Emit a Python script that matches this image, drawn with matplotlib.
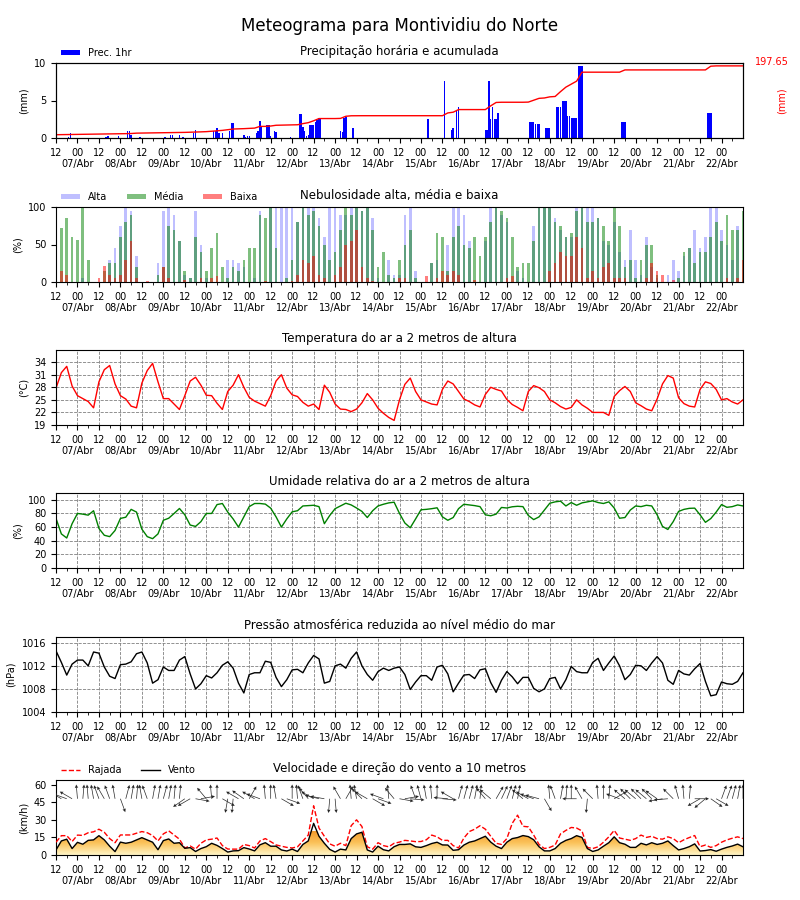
import numpy as np
import matplotlib
matplotlib.use("Agg")
import matplotlib.pyplot as plt
from matplotlib.patches import Polygon
from matplotlib.colors import LinearSegmentedColormap

# hours since 06/Abr 12UTC, 3-hourly
hours = np.arange(0, 385, 3)

day_labels = ["07/Abr", "08/Abr", "09/Abr", "10/Abr", "11/Abr", "12/Abr", "13/Abr", "14/Abr",
              "15/Abr", "16/Abr", "17/Abr", "18/Abr", "19/Abr", "20/Abr", "21/Abr", "22/Abr"]

# precipitation (hour, mm)
prec_hours = [7, 8, 28, 29, 35, 40, 41, 42, 47, 61, 64, 65, 69, 71, 77, 78, 88, 89, 90, 91, 93,
              97, 98, 99, 105, 106, 107, 108, 112, 113, 114, 115, 118, 119, 120, 122, 123, 131,
              136, 137, 138, 139, 140, 141, 142, 143, 144, 145, 146, 147, 148, 159, 160, 161, 162,
              166, 208, 217, 221, 222, 224, 225, 240, 241, 242, 243, 244, 245, 246, 247,
              265, 266, 267, 268, 269, 270, 274, 275, 276, 280, 281, 282, 283, 284, 285, 286,
              287, 288, 289, 290, 291, 292, 293, 294, 316, 317, 318, 364, 365, 366]
prec_vals = [0.2, 0.7, 0.2, 0.3, 0.3, 1.0, 1.0, 0.45, 0.2, 0.15, 0.45, 0.45, 0.45, 0.2, 0.7, 1.1,
             1.0, 1.0, 1.35, 0.7, 0.7, 0.9, 2.0, 2.0, 0.45, 0.2, 0.3, 0.3, 0.7, 0.9, 2.3, 1.5,
             1.8, 1.8, 0.3, 1.0, 0.75, 0.15, 3.25, 3.25, 1.5, 0.9, 0.3, 0.35, 1.8, 1.8, 1.8,
             2.2, 2.4, 2.7, 2.7, 0.9, 0.75, 2.7, 2.75, 1.4, 2.6, 7.55, 1.1, 1.35, 3.55, 4.2,
             1.1, 1.1, 7.55, 2.6, 4.2, 2.6, 2.6, 3.4, 2.2, 2.2, 2.2, 1.9, 1.9, 1.9, 1.4, 1.4,
             1.4, 4.2, 4.2, 4.2, 4.9, 4.9, 4.9, 3.0, 3.0, 2.7, 2.7, 2.7, 2.7, 9.55, 9.55, 9.55,
             2.2, 2.2, 2.2, 3.4, 3.4, 3.4]

prec_acc = [9.0, 9.2, 9.4, 9.6, 9.8, 10.0, 10.2, 10.5,
            10.7, 10.9, 11.1, 11.3, 11.5, 11.9, 12.3, 13.3,
            13.7, 13.8, 14.0, 14.2, 14.4, 14.6, 14.9, 15.1,
            15.4, 15.8, 16.4, 16.8, 17.4, 18.5, 19.9, 20.9,
            22.6, 24.6, 25.0, 25.6, 26.2, 27.1, 31.8, 31.8,
            32.8, 34.9, 35.3, 35.7, 35.9, 36.3, 39.4, 42.0,
            47.2, 53.3, 53.3, 53.3, 53.3, 53.7, 59.5, 60.9,
            61.1, 61.1, 61.1, 61.1, 61.1, 61.1, 61.1, 61.1,
            61.1, 61.1, 61.1, 61.1, 61.1, 61.1, 61.1, 61.1,
            61.1, 68.7, 70.7, 77.9, 77.9, 77.9, 77.9, 77.9,
            77.9, 88.2, 97.4, 98.0, 98.0, 98.0, 98.0, 98.0,
            98.4, 103.5, 108.7, 109.7, 112.8, 113.8, 127.1, 139.4,
            147.6, 155.8, 180.4, 180.4, 180.4, 180.4, 180.4, 180.4,
            180.4, 180.4, 186.6, 186.6, 186.6, 186.6, 186.6, 186.6,
            186.6, 186.6, 186.6, 186.6, 186.6, 186.6, 186.6, 186.6,
            186.6, 186.6, 196.8, 197.65, 197.65, 197.65, 197.65, 197.65,
            197.65]

cloud_high = [0, 0, 0, 0, 0, 5, 0, 0,
              0, 0, 30, 45, 75, 100, 95, 35,
              0, 0, 0, 25, 95, 100, 90, 55,
              10, 5, 95, 50, 5, 0, 0, 0,
              30, 30, 25, 20, 0, 5, 95, 0,
              100, 100, 100, 100, 100, 80, 100, 100,
              100, 85, 60, 100, 100, 90, 90, 100,
              100, 95, 100, 85, 5, 0, 30, 10,
              10, 90, 100, 15, 0, 0, 25, 30,
              0, 50, 100, 100, 90, 55, 0, 0,
              55, 100, 100, 90, 80, 0, 15, 5,
              0, 75, 100, 100, 100, 85, 70, 60,
              60, 100, 100, 100, 100, 85, 55, 50,
              80, 40, 30, 70, 30, 10, 60, 20,
              5, 0, 10, 30, 15, 35, 45, 70,
              45, 60, 100, 100, 70, 50, 30, 75,
              0]
cloud_mid = [30, 72, 85, 60, 56, 100, 30, 0,
             0, 15, 25, 25, 60, 80, 90, 20,
             0, 0, 0, 10, 20, 75, 70, 55,
             15, 5, 60, 40, 15, 45, 65, 20,
             5, 20, 15, 30, 45, 45, 90, 85,
             100, 45, 0, 5, 30, 80, 100, 90,
             95, 75, 50, 30, 40, 70, 100, 90,
             100, 95, 100, 70, 20, 40, 10, 5,
             30, 50, 70, 5, 0, 0, 25, 65,
             60, 15, 60, 75, 50, 45, 60, 35,
             60, 80, 100, 95, 85, 60, 20, 25,
             25, 55, 100, 100, 100, 80, 75, 60,
             65, 95, 100, 80, 80, 85, 75, 55,
             100, 75, 20, 30, 5, 30, 50, 50,
             10, 0, 0, 0, 5, 40, 45, 25,
             40, 40, 60, 80, 55, 90, 70, 70,
             95]
cloud_low = [5, 15, 10, 0, 0, 0, 0, 0,
             5, 22, 10, 5, 10, 30, 55, 5,
             0, 2, 0, 0, 20, 5, 0, 0,
             3, 0, 0, 5, 0, 5, 8, 0,
             0, 0, 0, 0, 0, 0, 0, 2,
             0, 0, 0, 0, 2, 10, 30, 25,
             35, 10, 5, 0, 10, 20, 50, 55,
             70, 20, 5, 2, 0, 0, 0, 0,
             5, 5, 0, 0, 0, 8, 0, 5,
             15, 10, 15, 10, 0, 0, 3, 0,
             0, 0, 0, 0, 5, 8, 0, 0,
             0, 0, 0, 0, 15, 25, 40, 35,
             35, 60, 45, 5, 15, 5, 20, 25,
             5, 5, 5, 0, 0, 0, 5, 25,
             15, 10, 0, 3, 0, 0, 0, 0,
             0, 0, 0, 0, 0, 5, 0, 5,
             30]

temp = [27.8, 31.5, 33.0, 28.3, 26.0, 25.3, 24.6, 23.1,
        29.3, 32.2, 33.2, 28.8, 26.0, 25.2, 23.5, 23.1,
        29.0, 32.0, 33.7, 29.3, 25.3, 25.3, 24.0, 22.7,
        26.0, 29.5, 30.4, 28.5, 26.1, 26.0, 24.2, 22.7,
        27.0, 28.5, 31.0, 28.0, 25.6, 24.7, 24.1, 23.5,
        26.0, 29.5, 31.0, 27.8, 26.2, 25.8, 24.4, 23.5,
        24.0, 22.7, 28.5, 26.8, 24.0, 22.8, 22.7, 22.2,
        22.8, 24.3, 26.5, 25.0, 23.0, 21.8, 20.8, 20.1,
        25.0, 28.7, 30.2, 27.0, 25.0, 24.5, 24.0, 23.8,
        27.5, 29.5, 28.8, 27.0, 25.2, 24.6, 23.8, 23.3,
        26.3, 28.0, 27.5, 27.1, 25.1, 23.9, 23.2, 22.4,
        27.0, 28.4, 27.9, 27.0, 25.0, 24.3, 23.4, 22.8,
        23.2, 25.0, 23.8, 23.0, 22.0, 22.0, 22.0, 21.3,
        25.8, 27.2, 28.2, 27.0, 24.3, 23.6, 22.8, 22.4,
        25.2, 28.8, 30.8, 30.2, 25.5, 24.1, 23.5, 23.3,
        27.5, 29.3, 28.9, 27.5, 25.0, 25.3, 24.5, 24.0,
        25.0]

rh = [72.7, 50, 44, 65, 80, 79, 77.5, 84,
      58, 48, 46, 55, 72.7, 74.5, 86, 82,
      57, 46, 43, 50, 70, 73, 80, 87.3,
      78, 63, 61, 68, 80, 80, 93, 94.6,
      82, 72, 60, 75, 90, 94.6, 94.6, 93.7,
      87.8, 75, 60, 72, 82.4, 84, 91, 91.5,
      92, 90, 65, 77, 87, 91, 95, 92.5,
      88, 83, 74, 84, 91, 93.5, 95.5, 96.5,
      80, 66, 59, 72, 85.4, 86, 87, 88.3,
      75, 70, 74, 87, 93.5, 92.5, 91.5, 90,
      78, 76.6, 79, 88.8, 88, 89.8, 90.5, 90,
      77, 71, 75, 85, 95, 97, 98, 91,
      96, 92, 95.5, 97, 98.5, 96, 94.6, 97,
      88, 73, 74, 85, 91, 90, 92, 91,
      78, 61, 56.5, 68, 83, 86, 87.5, 87.8,
      78, 67, 72.5, 82, 93, 89, 90, 92.5,
      91]

pres = [1014.6, 1012.6, 1010.4, 1012.3, 1013.0, 1013.0, 1012.0, 1014.4,
        1014.2, 1011.8, 1010.2, 1009.8, 1012.2, 1012.3, 1012.7, 1014.1,
        1014.4, 1012.5, 1009.0, 1009.6, 1011.8, 1011.2, 1011.2, 1013.0,
        1013.6, 1010.6, 1008.0, 1008.9, 1010.3, 1009.9, 1010.8, 1012.1,
        1012.7, 1011.6, 1009.0, 1007.3, 1010.5, 1010.8, 1010.8, 1012.8,
        1012.6, 1010.0, 1008.4, 1009.6, 1011.3, 1011.4, 1010.8, 1012.5,
        1013.8, 1013.2, 1009.0, 1009.3, 1012.0, 1012.3, 1011.6, 1013.3,
        1014.4, 1012.0, 1010.5, 1009.5, 1011.0, 1011.6, 1011.2, 1011.6,
        1011.8, 1010.5, 1007.9, 1009.2, 1010.3, 1010.3, 1009.5, 1011.8,
        1012.1, 1010.6, 1007.5, 1009.0, 1010.4, 1010.5, 1009.8, 1011.3,
        1011.5, 1009.1, 1007.4, 1009.5, 1011.0, 1010.1, 1008.9, 1010.0,
        1010.0, 1008.1, 1007.5, 1008.0, 1009.8, 1010.0, 1008.0, 1009.6,
        1011.9, 1011.0, 1010.8, 1010.8, 1012.6, 1013.3, 1011.2, 1012.5,
        1013.7, 1012.0, 1009.6, 1010.5, 1012.1, 1012.0, 1011.2, 1012.5,
        1013.6, 1012.5, 1009.5, 1008.8, 1011.2, 1010.6, 1010.4, 1011.5,
        1012.4, 1009.3, 1006.8, 1007.0, 1009.2, 1008.9, 1008.8, 1009.3,
        1010.8]

wind = [4.3, 12, 13.5, 5.5, 10.8, 9.2, 12.5, 12.9,
        16.5, 12.9, 7.5, 2.9, 11, 10, 10.9, 12.9,
        14.8, 12.9, 10.9, 4.5, 12.3, 13.7, 10, 10.5,
        5.7, 6.3, 3, 5.5, 7.1, 10, 8.2, 5.5,
        2.5, 3.5, 3.7, 6.3, 5.1, 3.5, 8.7, 10.5,
        7.5, 7.5, 4.3, 3.4, 5, 3, 9, 12,
        27, 16, 10, 4.8, 2.5, 5, 4.3, 14,
        18, 19.4, 4.3, 2.5, 7.5, 4.5, 3.5, 7.1,
        9, 9, 9.5, 7, 6.5, 8, 9.8, 10.9,
        8.6, 8.5, 4, 4.5, 8.5, 10.9, 12, 14,
        16, 11, 7.5, 5.5, 10.9, 14, 14.9, 16.6,
        15.7, 13, 7, 3.5, 3.5, 5.5, 10, 12.5,
        14, 16.5, 15, 5.5, 3, 4.3, 7.5, 10.5,
        15.5, 10.5, 9.2, 6.5, 6.5, 10, 8.6, 10.5,
        9, 10, 12, 8, 4.3, 5.5, 7.1, 9.5,
        3.4, 3.8, 4.6, 3.2, 5, 6.5, 7.7, 9.3,
        7]

gust = [10.9, 16.5, 16.5, 11.5, 17, 16.7, 19, 19.8,
        22, 19.4, 14, 10.5, 17.1, 17.1, 17.1, 18.6,
        20, 19, 16.6, 12, 18, 20.6, 17.1, 13.5,
        6, 7.7, 5, 10, 12.9, 13.5, 14.5, 8,
        5.1, 5, 5, 9, 8, 6, 12, 14,
        11.4, 8.6, 7.5, 6.5, 6, 7, 12, 17,
        42, 23, 16, 9.5, 7.5, 10, 8, 25,
        30, 24.3, 7, 5, 10.5, 8, 7, 10,
        11, 12.5, 12, 11.4, 11.5, 13, 17, 15.5,
        12.5, 12.5, 8, 6, 14.5, 20, 22, 25,
        22, 16, 10, 9, 14, 27, 34, 24.5,
        24, 17, 9, 5.5, 6.5, 8.5, 18, 21,
        23.5, 23, 20.5, 6.5, 5.5, 7, 10.9, 15.5,
        21, 14.5, 13.5, 12.5, 14, 17, 15, 16,
        14, 13.5, 15.5, 14, 10.5, 13, 14.9, 16.6,
        7.1, 8.5, 6.5, 8, 10.9, 12.9, 14.3, 15.5,
        14]

# arrow heading on screen, degrees (0 = east, 90 = up)
wind_arrow = [150, 150, 160, 150, 95, 85, 95, 100,
              110, 120, 110, 100, -70, 75, 80, 85,
              100, 110, 80, 80, 75, 80, 85, 85,
              -145, -150, -10, 10, 130, 95, 90, -30,
              -100, -95, 150, 145, 60, 150, 160, 95,
              90, 100, -30, -20, 90, 95, 110, 130,
              150, 165, 170, -95, -85, 120, 60, 95,
              100, 135, 150, -30, -20, 160, 95, 130,
              -10, 10, -5, 110, 105, 100, 95, 90,
              -5, 175, 150, 75, 75, 75, 80, 85,
              130, 140, 60, 65, 70, 75, 80, 140,
              150, 160, 165, -60, 95, 110, 80, 85,
              90, 180, 120, -95, 135, 95, 90, 85,
              30, 160, 140, 135, 140, 135, 140, 135,
              145, -170, -175, 135, 105, 95, 85, 0,
              -150, -140, -35, -30, 70, 70, 75, 80,
              90]

plt.rcParams['font.family'] = 'DejaVu Sans'
fig = plt.figure(figsize=(8, 9), dpi=100)
fig.suptitle("Meteograma para Montividiu do Norte", fontsize=12, y=0.971, va='center')

left, width, height = 0.07, 0.85875, 75 / 900
bottoms_px = [138, 282, 425, 568, 712, 855]
axes = [fig.add_axes([left, 1 - b / 900, width, height]) for b in bottoms_px]

major = np.arange(0, 384, 12)
labels = []
for h in major:
    if (h // 12) % 2 == 0:
        labels.append("12\n ")
    else:
        labels.append("00\n" + day_labels[(h - 12) // 24])

for ax in axes:
    ax.set_xlim(0, 384)
    ax.set_xticks(major)
    ax.set_xticklabels(labels, fontsize=7)
    ax.set_xticks(np.arange(6, 384, 12), minor=True)
    ax.tick_params(axis='y', labelsize=7)
    ax.tick_params(axis='x', which='major', length=3.5)
    ax.tick_params(axis='x', which='minor', length=2)

tfs = 8.5

# precipitation
ax = axes[0]
ax.bar(prec_hours, prec_vals, width=0.8, color='b', label='Prec. 1hr')
ax.set_ylim(0, 10)
ax.set_yticks([0, 5, 10])
ax.set_ylabel("(mm)", fontsize=7)
ax.set_title("Precipitação horária e acumulada", fontsize=tfs)
ax.legend(loc='lower left', bbox_to_anchor=(0, 1.0), frameon=False, fontsize=7,
          borderaxespad=0.1, handleheight=0.5)
ax2 = ax.twinx()
ax2.plot(hours, prec_acc, color='r', lw=1)
ylim_acc = prec_acc[-1] * 1.04
ax2.set_ylim(0, ylim_acc)
ax2.set_yticks([])
ax2.set_xlim(0, 384)
ax2.set_ylabel("(mm)", color='r', fontsize=7, labelpad=24)
ax2.text(1.017, 1.01, "%.2f" % prec_acc[-1], color='r', fontsize=7,
         transform=ax2.transAxes, va='center', ha='left')

# clouds
ax = axes[1]
bw = 1.5
ax.bar(hours, cloud_high, width=bw, color='b', alpha=0.25, label='Alta')
ax.bar(hours, cloud_mid, width=bw, color='g', alpha=0.5, label='Média')
ax.bar(hours, cloud_low, width=bw, color='r', alpha=0.5, label='Baixa')
ax.set_ylim(0, 100)
ax.set_yticks([0, 50, 100])
ax.set_ylabel("(%)", fontsize=7)
ax.set_title("Nebulosidade alta, média e baixa", fontsize=tfs)
ax.legend(loc='lower left', bbox_to_anchor=(0, 1.0), frameon=False, fontsize=7, ncol=3,
          borderaxespad=0.1, handleheight=0.5)

# temperature
ax = axes[2]
ax.plot(hours, temp, color='r', lw=1)
ax.set_ylim(19, 36.9)
ax.set_yticks([19, 22, 25, 28, 31, 34])
ax.set_ylabel("(°C)", fontsize=7)
ax.set_title("Temperatura do ar a 2 metros de altura", fontsize=tfs)
ax.grid(True, ls='--', color='gray', lw=0.6)

# humidity
ax = axes[3]
ax.plot(hours, rh, color='g', lw=1)
ax.set_ylim(0, 110)
ax.set_yticks([0, 20, 40, 60, 80, 100])
ax.set_ylabel("(%)", fontsize=7)
ax.set_title("Umidade relativa do ar a 2 metros de altura", fontsize=tfs)
ax.grid(True, ls='--', color='gray', lw=0.6)

# pressure
ax = axes[4]
ax.plot(hours, pres, color='k', lw=1)
ax.set_ylim(1004, 1017)
ax.set_yticks([1004, 1008, 1012, 1016])
ax.set_ylabel("(hPa)", fontsize=7)
ax.set_title("Pressão atmosférica reduzida ao nível médio do mar", fontsize=tfs)
ax.grid(True, ls='--', color='gray', lw=0.6)

# wind
ax = axes[5]
cmap = LinearSegmentedColormap.from_list("wfill", ["#fff6c8", "#fbc35c", "#f39a2a"])
poly = Polygon(np.column_stack([np.r_[hours[0], hours, hours[-1]], np.r_[0, wind, 0]]),
               closed=True, facecolor='none', edgecolor='none')
ax.add_patch(poly)
grad = np.linspace(0, 1, 256).reshape(-1, 1)
im = ax.imshow(grad, extent=[0, 384, 0, 20], origin='lower', aspect='auto', cmap=cmap, zorder=1)
im.set_clip_path(poly)
ax.plot(hours, gust, color='r', ls='--', lw=1, label='Rajada', zorder=3)
ax.plot(hours, wind, color='k', lw=1, label='Vento', zorder=4)
ang = np.deg2rad(wind_arrow)
ax.quiver(hours, np.full(len(hours), 48.0), np.cos(ang), np.sin(ang), angles='uv',
          scale_units='inches', scale=7.0, width=0.001, headwidth=5, headlength=5,
          headaxislength=4.5, color='0.15', pivot='tail', zorder=5)
ax.set_xlim(0, 384)
ax.set_ylim(0, 64)
ax.set_yticks([0, 15, 30, 45, 60])
ax.set_ylabel("(km/h)", fontsize=7)
ax.set_title("Velocidade e direção do vento a 10 metros", fontsize=tfs)
ax.legend(loc='lower left', bbox_to_anchor=(0, 1.0), frameon=False, fontsize=7, ncol=2,
          borderaxespad=0.1)

fig.savefig("out.png", dpi=100)
